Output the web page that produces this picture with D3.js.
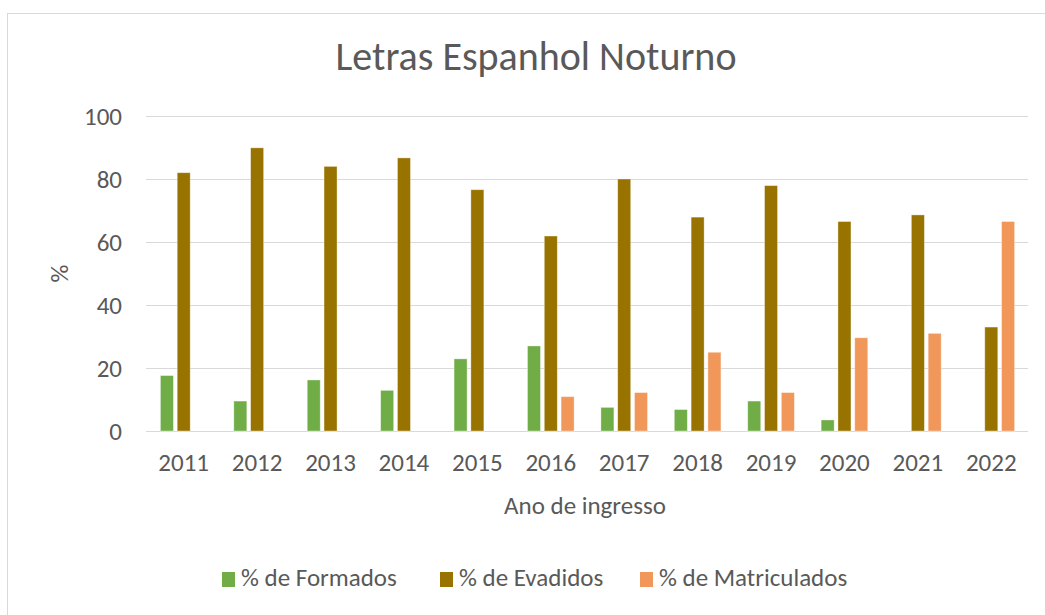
<!DOCTYPE html>
<html>
<head>
<meta charset="utf-8">
<script src="https://cdn.jsdelivr.net/npm/d3@7"></script>
<style>
  body { margin: 0; background: #fff; }
  svg text { font-family: Carlito, Calibri, "Open Sans", sans-serif; fill: #595959; }
</style>
</head>
<body>
<svg id="chart" width="1045" height="615"></svg>
<script>
// data
const years = ["2011", "2012", "2013", "2014", "2015", "2016", "2017", "2018", "2019", "2020", "2021", "2022"];
const seriesNames = ["% de Formados", "% de Evadidos", "% de Matriculados"];
const formados = [17.6, 9.5, 16.2, 12.9, 22.9, 27.0, 7.5, 6.8, 9.5, 3.5, 0, 0];
const evadidos = [82.0, 89.9, 84.0, 86.7, 76.6, 61.9, 80.0, 67.9, 77.9, 66.5, 68.6, 33.0];
const matriculados = [0, 0, 0, 0, 0, 10.9, 12.2, 25.0, 12.2, 29.6, 31.0, 66.5];
const yTicks = [0, 20, 40, 60, 80, 100];

const colors = ["#70AD47", "#997300", "#F1975A"];
const values = [formados, evadidos, matriculados];

const svg = d3.select("#chart");

// outer chart border (Excel style)
svg.append("rect")
    .attr("x", 7.5).attr("y", 13.5)
    .attr("width", 1100).attr("height", 700)
    .attr("fill", "none")
    .attr("stroke", "#d9d9d9");

const plot = { left: 147, right: 1028, top: 116, bottom: 431 };

const x0 = d3.scaleBand()
    .domain(years)
    .range([plot.left, plot.right]);

const groupWidth = x0.bandwidth() * 0.635;
const x1 = d3.scaleBand()
    .domain(seriesNames)
    .range([-groupWidth / 2, groupWidth / 2])
    .paddingInner(0.226);

const y = d3.scaleLinear()
    .domain([0, 100])
    .range([plot.bottom, plot.top]);

// gridlines
svg.append("g")
    .selectAll("line")
    .data(yTicks)
    .enter()
    .append("line")
    .attr("x1", plot.left - 1)
    .attr("x2", plot.right)
    .attr("y1", d => Math.round(y(d)) + 0.5)
    .attr("y2", d => Math.round(y(d)) + 0.5)
    .attr("stroke", "#d9d9d9")
    .attr("stroke-width", 1);

// y tick labels
svg.append("g")
    .selectAll("text")
    .data(yTicks)
    .enter()
    .append("text")
    .attr("x", 122)
    .attr("y", d => y(d))
    .attr("dy", "0.35em")
    .attr("text-anchor", "end")
    .attr("font-size", 25)
    .text(d => d);

// bars
const rows = [];
years.forEach((yr, i) => {
    seriesNames.forEach((s, j) => {
        rows.push({ year: yr, series: s, value: values[j][i], color: colors[j] });
    });
});

svg.append("g")
    .selectAll("rect")
    .data(rows.filter(d => d.value > 0))
    .enter()
    .append("rect")
    .attr("x", d => x0(d.year) + x0.bandwidth() / 2 + x1(d.series))
    .attr("y", d => y(d.value))
    .attr("width", x1.bandwidth())
    .attr("height", d => y(0) - y(d.value))
    .attr("fill", d => d.color)
    .attr("stroke", "#ffffff")
    .attr("stroke-opacity", 0.45)
    .attr("stroke-width", 0.8);

// x tick labels
svg.append("g")
    .selectAll("text")
    .data(years)
    .enter()
    .append("text")
    .attr("x", d => x0(d) + x0.bandwidth() / 2)
    .attr("y", 471)
    .attr("text-anchor", "middle")
    .attr("font-size", 25)
    .text(d => d);

// title
svg.append("text")
    .attr("x", 536)
    .attr("y", 70)
    .attr("text-anchor", "middle")
    .attr("font-size", 40)
    .text("Letras Espanhol Noturno");

// axis titles
svg.append("text")
    .attr("x", 585)
    .attr("y", 514)
    .attr("text-anchor", "middle")
    .attr("font-size", 25)
    .text("Ano de ingresso");

svg.append("text")
    .attr("transform", "translate(68," + ((plot.top + plot.bottom) / 2) + ") rotate(-90)")
    .attr("text-anchor", "middle")
    .attr("font-size", 25)
    .text("%");

// legend
const legendX = [222, 440, 640];
const legend = svg.append("g")
    .selectAll("g")
    .data(seriesNames)
    .enter()
    .append("g")
    .attr("transform", (d, i) => "translate(" + legendX[i] + ",572)");

legend.append("rect")
    .attr("width", 13)
    .attr("height", 15)
    .attr("fill", (d, i) => colors[i]);

legend.append("text")
    .attr("x", 19)
    .attr("y", 14)
    .attr("font-size", 25)
    .text(d => d);
</script>
</body>
</html>
